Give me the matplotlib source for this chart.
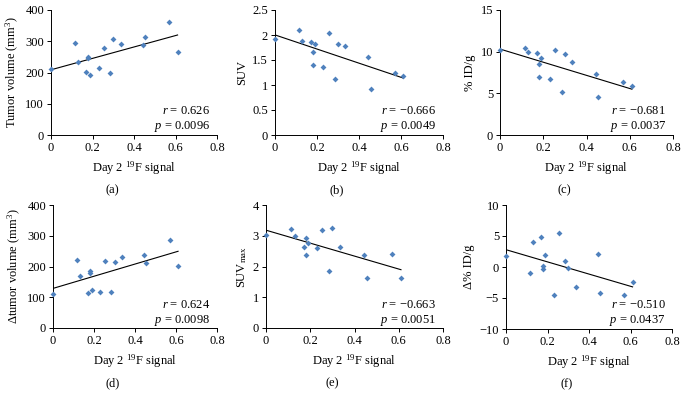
import numpy as np
import matplotlib
matplotlib.use("Agg")
import matplotlib.pyplot as plt

plt.rcParams['font.family'] = ['Liberation Serif', 'DejaVu Serif']
plt.rcParams['mathtext.fontset'] = 'custom'
plt.rcParams['mathtext.rm'] = 'Liberation Serif'
plt.rcParams['mathtext.it'] = 'Liberation Serif:italic'
plt.rcParams['font.size'] = 9

# day 2 19F signal (same mice in every panel)
signal_19f = [0, 0.115, 0.13, 0.17, 0.18, 0.18, 0.19, 0.23, 0.255, 0.285, 0.30, 0.335, 0.445, 0.455, 0.57, 0.61]

tumor_volume = [210, 293, 235, 203, 250, 245, 193, 215, 278, 197, 307, 292, 288, 315, 363, 267]
suv = [1.93, 2.10, 1.88, 1.86, 1.66, 1.41, 1.83, 1.37, 2.04, 1.13, 1.82, 1.78, 1.57, 0.92, 1.25, 1.19]
pct_id = [10.2, 10.5, 9.9, 9.8, 8.5, 7.0, 9.2, 6.7, 10.2, 5.2, 9.7, 8.8, 7.3, 4.6, 6.4, 5.9]
d_tumor_volume = [112, 222, 170, 115, 185, 180, 122, 116, 218, 117, 215, 231, 237, 213, 285, 203]
suv_max = [3.02, 3.22, 3.00, 2.65, 2.92, 2.36, 2.78, 2.60, 3.20, 1.86, 3.24, 2.63, 2.38, 1.62, 2.40, 1.64]
d_pct_id = [1.7, -1.0, 4.0, 4.9, 0.2, -0.3, 1.9, -4.5, 5.5, 0.9, -0.1, -3.3, 2.1, -4.2, -4.5, -2.4]

panels = [
    ("(a)", tumor_volume, "Tumor volume (mm$^3$)", [0, 100, 200, 300, 400], ["0", "100", "200", "300", "400"], "0.626", "0.0096"),
    ("(b)", suv, "SUV", [0, 0.5, 1, 1.5, 2, 2.5], ["0", "0.5", "1", "1.5", "2", "2.5"], "\u22120.666", "0.0049"),
    ("(c)", pct_id, "% ID/g", [0, 5, 10, 15], ["0", "5", "10", "15"], "\u22120.681", "0.0037"),
    ("(d)", d_tumor_volume, "\u0394tumor volume (mm$^3$)", [0, 100, 200, 300, 400], ["0", "100", "200", "300", "400"], "0.624", "0.0098"),
    ("(e)", suv_max, "SUV$_{\\rm max}$", [0, 1, 2, 3, 4], ["0", "1", "2", "3", "4"], "\u22120.663", "0.0051"),
    ("(f)", d_pct_id, "\u0394% ID/g", [-10, -5, 0, 5, 10], ["\u221210", "\u22125", "0", "5", "10"], "\u22120.510", "0.0437"),
]

W, H = 686, 401
# axes boxes in pixels: left, top, right, bottom
boxes = [
    (51, 10, 217, 135), (275, 10, 443, 135), (500, 10, 673, 135),
    (53, 205, 217, 328), (266, 205, 443, 328), (506, 205, 672, 329),
]

fig = plt.figure(figsize=(W / 100, H / 100), dpi=100)
x = np.array(signal_19f)

for (lab, yvals, ylab, yt, ytl, r, p), (l, t, rr, b) in zip(panels, boxes):
    ax = fig.add_axes([l / W, 1 - b / H, (rr - l) / W, (b - t) / H])
    y = np.array(yvals)
    ax.plot(x, y, 'D', color='#4F81BD', markersize=3.0, markeredgewidth=0, clip_on=False, zorder=3)
    k, c = np.polyfit(x, y, 1)
    xf = np.array([x.min(), x.max()])
    ax.plot(xf, k * xf + c, color='black', lw=0.8)
    ax.set_xlim(0, 0.8)
    ax.set_ylim(yt[0], yt[-1])
    ax.set_xticks([0, 0.2, 0.4, 0.6, 0.8])
    ax.set_xticklabels(["0", "0.2", "0.4", "0.6", "0.8"])
    ax.set_yticks(yt)
    ax.set_yticklabels(ytl)
    for s in ['top', 'right']:
        ax.spines[s].set_visible(False)
    for s in ['left', 'bottom']:
        ax.spines[s].set_linewidth(0.7)
    ax.tick_params(length=3, width=0.7, pad=2, labelsize=9)
    ax.set_ylabel(ylab, fontsize=9, labelpad=3)
    ax.set_xlabel("Day 2 $^{19}$F signal", fontsize=9, labelpad=4)
    ax.text(0.96, 0.19, "$r$ = " + r, transform=ax.transAxes, ha='right', va='center', fontsize=9)
    ax.text(0.96, 0.065, "$p$ = " + p, transform=ax.transAxes, ha='right', va='center', fontsize=9)
    fig.text((l + rr) / 2 / W - 22 / W, 1 - (b + 55) / H, lab, ha='center', va='center', fontsize=9)

fig.savefig("out.png", dpi=100)
